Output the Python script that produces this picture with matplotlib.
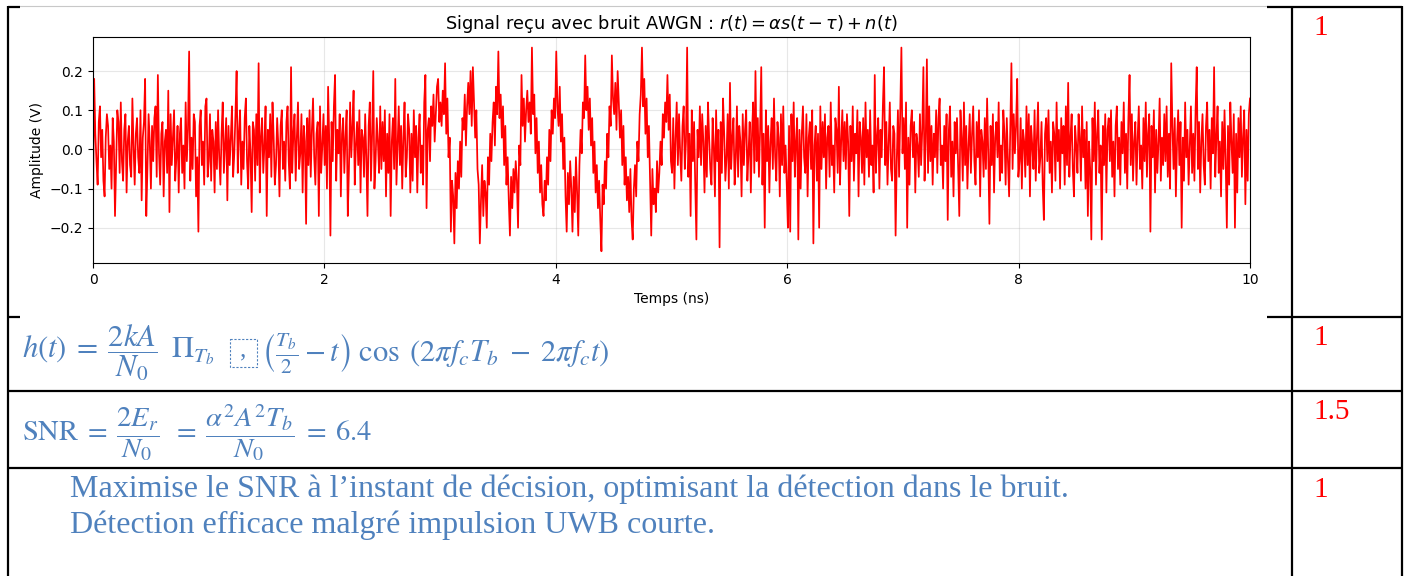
import numpy as np
import matplotlib.pyplot as plt
from matplotlib.patches import Rectangle

# r(t), in units of 0.01 V, one sample every 0.01 ns
# (one row = 0.25 ns)
r_cv = [
    -15, 18, 4, -3, -9, 7, 11, -2, 5, -8, -12, 3, 9, 6, -5, 1, -10, 8, 2, -17, -4, 10, 7, -6, 12,
    -3, -8, 5, 9, -11, 2, 6, -4, -7, 13, 1, -9, 4, 8, -2, -6, 10, -13, 3, 7, 18, -17, -5, 9, 2,
    -10, 6, -3, 8, 11, -7, 19, -1, -9, 4, 7, -12, 2, 5, -6, 15, -16, 9, -4, 3, 10, -8, -2, 6, -11,
    4, 8, -6, 1, -10, 12, -3, 5, 25, -8, 3, -5, 9, 7, -12, -2, -21, 6, 10, -4, 2, -9, 11, 13, -7,
    -3, 9, -8, 5, 2, -11, 7, -5, 10, -2, -9, 4, 12, -6, 1, 8, -13, 6, -4, 3, 11, -7, -1, 9, 20,
    -6, 4, 10, -9, 2, -5, 8, 13, -3, -10, 6, -1, -16, 7, 5, -8, 9, -4, 22, -11, 3, 8, -6, 1, 11,
    -17, 5, -2, 9, -7, 12, 3, -9, -4, 8, 1, -12, 6, 10, -5, 2, -8, 7, 11, -3, -10, 21, -6, 4, 9,
    -8, 3, 12, -5, -1, 9, -11, 6, 2, -19, 8, -4, 10, -7, 5, 13, -2, -9, 4, 7, -17, 11, -6, 1, 9,
    -4, 6, -10, 16, 2, -22, 7, -3, 11, 19, -8, 5, -1, 9, -12, 4, 8, -6, 3, 10, -17, -5, 12, -2, 6,
    15, -9, 1, 7, -4, 10, -11, 5, 3, -7, 9, -2, -17, 6, 12, -8, 4, 20, -10, -3, 8, 2, -6, 11, -5,
    7, -3, 10, -12, 4, -6, 9, -17, 2, 8, -5, 18, -9, 1, 11, -4, 6, -10, 3, 12, -7, -2, 9, 5, -11,
    4, -8, 10, -2, 6, -11, 3, 9, -6, 1, -9, 12, 19, -15, 5, 8, -3, 11, 6, 14, 2, 9, 16, 18, 7,
    12, 6, 15, 9, 22, 4, 13, -2, 3, -21, -8, -12, -24, -6, -15, -3, -10, 2, -7, 8, 5, 14, 1, 11, 17,
    9, 20, 6, 21, 12, 3, 10, -5, -9, -24, -13, -4, -17, -8, -11, -20, -2, -9, 4, -3, 7, 12, 1, 16, 9,
    25, 8, 14, 3, 11, -4, 6, -9, -2, -13, -22, -7, -15, -5, -11, -3, -8, -20, 1, -4, 19, 6, 13, 2, 10,
    15, 7, 12, 4, 26, 9, 14, -1, 8, -6, 2, -11, -4, -14, -17, -8, -13, -2, -9, 5, -3, 10, 4, 13, 8,
    25, 11, 6, 16, 2, 9, -5, 3, -12, -21, -6, -14, -3, -10, -21, -7, -16, -2, -11, -22, -4, 5, -1, 12, 8,
    24, 10, 16, 5, 13, 1, 8, -6, 2, -11, -4, -15, -8, -18, -26, -9, -14, -3, -10, 4, -2, 11, 6, 24, 13,
    9, 17, 5, 20, 12, 3, 10, -4, 6, -9, -2, -13, -7, -16, -5, -18, -23, -10, -4, -12, 2, -3, 9, 14, 26,
    11, 18, 4, 13, -2, 6, -8, -22, -5, -14, -10, -16, -3, -11, -6, 2, -4, 9, 3, 12, 7, 19, 5, 14, -3,
    -6, 8, -10, 3, 12, -4, 9, -1, -8, 6, 11, -5, 2, 26, -7, 4, -17, 10, -3, 7, -9, -23, 5, -2, 11,
    -4, 9, 2, -11, 6, -7, 12, 3, -5, -9, 8, 1, -12, 10, -3, 5, -25, 7, -6, 13, 4, -8, -2, 9, -10,
    17, -5, 3, 8, -9, -2, 11, -7, 6, 2, -12, 9, -4, 5, 10, -8, -1, 7, -11, 4, 12, -6, 20, -3, 8,
    -7, 5, 21, -9, 4, -20, 10, -3, 6, -11, 2, 8, -5, 13, -2, -8, 7, 3, -12, 9, -4, 11, -6, 1, -9,
    -20, 6, -21, 9, -3, 12, -7, 2, 8, -23, 5, -10, 4, 11, -2, -6, 9, -12, 3, 7, -5, 10, -24, 1, 6,
    -8, 4, -20, 11, -5, 7, -2, 9, -10, 3, 6, -7, 12, -4, 1, -11, 8, 5, -6, 16, -9, 2, 10, -3, 7,
    -5, 9, 2, -17, 6, -3, 11, -8, 4, -1, 10, -12, 7, 3, -6, 8, -9, 12, -2, 5, -7, 10, -4, 1, -11,
    19, -6, 3, 8, -10, 5, -2, 11, 21, -4, 7, -9, 2, 12, -5, -8, 6, 4, -22, -3, 10, -7, 9, 26, -1,
    8, -5, 12, -20, 3, -9, 6, 10, -2, 7, -11, 4, 1, -7, 9, -4, 5, 21, -8, 2, 23, -6, 11, -3, 6,
    -9, 4, -2, 10, -6, 8, 13, -4, 1, -10, 6, -3, 9, -18, 5, 11, -7, 2, -12, 7, -1, 8, -5, -17, 10,
    3, -8, 12, -4, 6, -10, 1, 9, -6, 4, 11, -3, -9, 7, -2, 10, -12, 5, 2, -7, 8, -5, 13, -1, -19,
    6, -4, 9, -11, 3, 7, -2, 12, -8, 1, -6, 10, 4, -9, 8, -3, -12, 5, 22, -5, 9, -1, 6, 18, -7,
    -3, 8, -10, 5, 2, -7, 11, -4, 9, -12, 6, 1, -5, 10, -8, 3, 12, -6, -2, 7, -9, -18, 4, 8, -3,
    10, -6, 2, -11, 7, 4, -8, 12, -3, 5, -10, 8, -1, 6, -9, 11, -4, 17, -7, 3, 9, -5, -12, 6, 1,
    -6, 9, 3, -8, 11, -2, 5, -10, 7, -17, 2, -5, -23, 8, -3, 12, -9, 4, 10, -6, 1, -23, 6, -4, 9,
    -11, 5, 8, -3, 10, -7, 2, -12, 6, 11, -5, 3, -9, 7, -1, 12, -6, 4, -10, 8, 19, -4, 9, -8, 2,
    7, -9, 3, 11, -5, 1, -10, 8, -3, 12, -7, 4, 9, -21, 6, -2, 10, -11, 5, -6, 2, 13, -8, 3, -4,
    9, -3, 11, -7, 4, -10, 22, 6, -5, 8, -12, 2, 10, -4, 7, -20, 3, -8, 12, -2, 5, -9, 1, 11, -6,
    4, -8, 10, 21, -5, 7, -11, 2, 9, -4, -9, 6, 12, -3, 5, -10, 8, -1, 21, -7, 3, 11, -6, 2, -12,
    7, -5, 10, -3, -20, 6, -9, 12, 2, -6, 9, -20, 4, -11, 8, -2, 11, -7, 3, 10, -14, 5, -8, 9, 13,
]
r_v = np.array(r_cv) / 100.0
t_ns = np.linspace(0, 10, len(r_v))

marks = ['1', '1', '1.5', '1']
line1 = 'Maximise le SNR à l’instant de décision, optimisant la détection dans le bruit.'
line2 = 'Détection efficace malgré impulsion UWB courte.'

W, H = 1406, 576
blue = '#4F81BD'
fig = plt.figure(figsize=(W / 100, H / 100), dpi=100)

# page / table layer, in pixel coordinates
bg = fig.add_axes([0, 0, 1, 1])
bg.set_xlim(0, W)
bg.set_ylim(H, 0)
bg.axis('off')

def hline(x0, x1, y):
    bg.plot([x0, x1], [y, y], color='k', lw=1.6, solid_capstyle='butt')

def vline(x, y0, y1):
    bg.plot([x, x], [y0, y1], color='k', lw=1.6, solid_capstyle='butt')

bg.plot([20, 1267], [6, 6], color='#c8c8c8', lw=0.8)
hline(8, 20, 6.5)
hline(1267, 1402, 6.5)
hline(8, 20, 316.5)
hline(1267, 1402, 316.5)
hline(8, 1402, 391)
hline(8, 1402, 468)
vline(8, 5.7, H)
vline(1292, 5.7, H)
vline(1402, 5.7, H)

for s, yb in zip(marks, [35, 345, 419, 497]):
    bg.text(1313, yb, s, color='red', family='Liberation Serif', fontsize=21, va='baseline')

bg.text(22, 353, r'$h(t)\;=\;\dfrac{2kA}{N_0}\;\;\Pi_{T_b}$', color=blue, fontsize=22,
        va='center', math_fontfamily='stix')
bg.add_patch(Rectangle((230, 339), 27, 28, fill=False, ec=blue, lw=0.8, ls=(0, (2, 1.5))))
bg.text(243, 350, ',', color=blue, fontsize=18, ha='center', va='center', family='Liberation Serif')
bg.text(261, 353, r'$\left(\frac{T_b}{2}-t\right)\;\cos\;(2\pi f_c T_b\;-\;2\pi f_c t)$', color=blue,
        fontsize=22, va='center', math_fontfamily='stix')
bg.text(22, 433, r'$\mathrm{SNR}\;=\;\dfrac{2E_r}{N_0}\;\;=\;\dfrac{\alpha^2A^2T_b}{N_0}\;=\;6.4$',
        color=blue, fontsize=20.5, va='center', math_fontfamily='stix')
bg.text(70, 497, line1, color=blue, family='Liberation Serif', fontsize=23, va='baseline')
bg.text(70, 533, line2, color=blue, family='Liberation Serif', fontsize=23, va='baseline')

# the chart pasted in the first cell
ax = fig.add_axes([93 / W, 1 - 263 / H, (1250 - 93) / W, (263 - 37) / H])
ax.plot(t_ns, r_v, color='red', lw=1.25)
ax.set_xlim(0, 10)
ax.set_ylim(-0.29, 0.287)
ax.set_yticks([-0.2, -0.1, 0.0, 0.1, 0.2])
ax.grid(True, alpha=0.3)
ax.set_xlabel('Temps (ns)')
ax.set_ylabel('Amplitude (V)')
ax.set_title(r'Signal reçu avec bruit AWGN : $r(t) = \alpha s(t - \tau) + n(t)$', fontsize=12.8)

fig.savefig('out.png', dpi=100)
